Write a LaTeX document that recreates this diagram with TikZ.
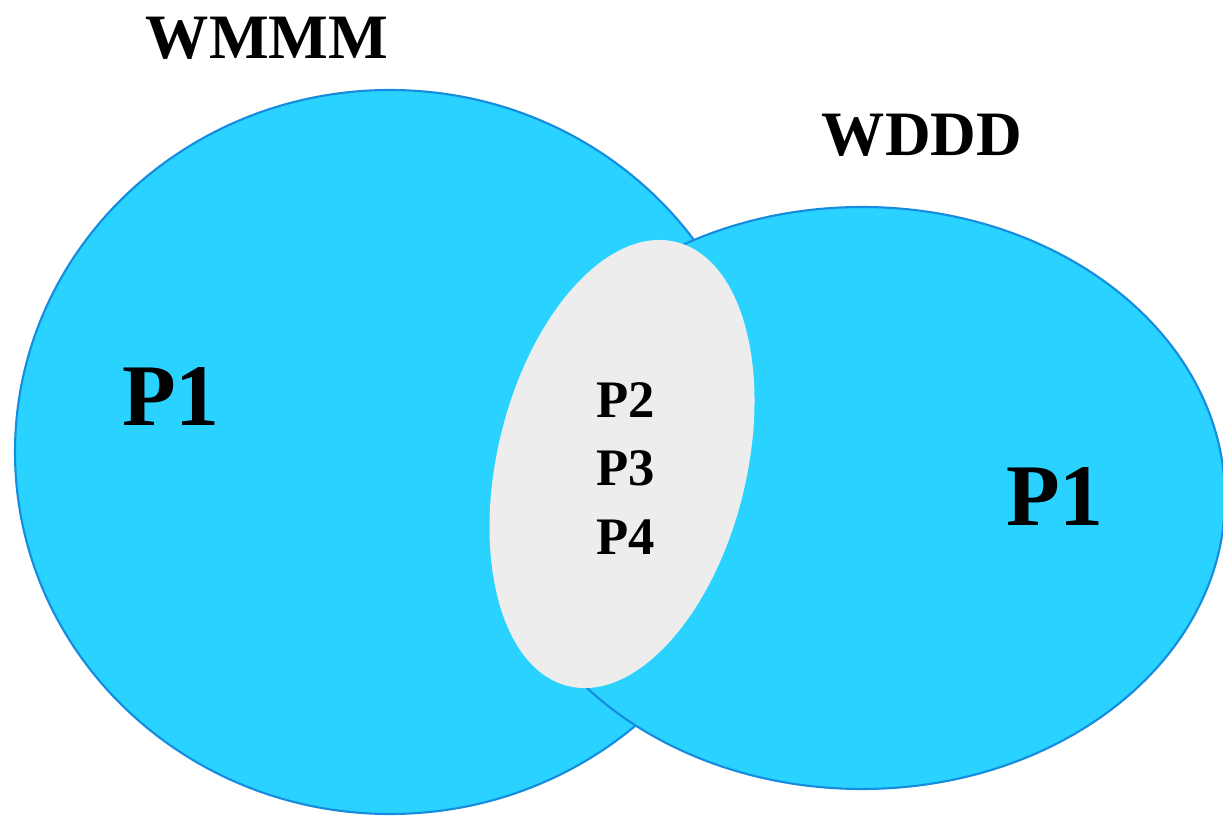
\documentclass[tikz,border=0pt]{standalone}
\usepackage{fontspec}
\setmainfont{Liberation Serif}
\usetikzlibrary{positioning}

\definecolor{setblue}{RGB}{41,210,255}
\definecolor{setline}{RGB}{22,140,225}
\definecolor{coregray}{RGB}{237,237,237}

\begin{document}
\begin{tikzpicture}[
    x=0.02cm, y=0.02cm,
    setfill/.style={fill=setblue, draw=setline, line width=1.2pt},
    corefill/.style={fill=coregray, draw=none},
    title/.style={font=\fontsize{36}{40}\selectfont\bfseries, inner sep=0pt},
    biglabel/.style={font=\fontsize{50}{56}\selectfont\bfseries, inner sep=0pt},
    smalllabel/.style={font=\fontsize{30}{34}\selectfont\bfseries, inner sep=0pt}
]
\useasboundingbox (0,0) rectangle (1223,815);

% Sets
\draw[setfill] (390,363) ellipse [x radius=375, y radius=362];
\draw[setfill] (862,317) ellipse [x radius=363, y radius=291];

% Overlap
\fill[corefill] (622,351) ellipse [x radius=124.6, y radius=228.5, rotate=-13.6];

% Titles
\node[title] (wmmm) at (267,777) {WMMM};
\node[title] (wddd) at (922,680) {WDDD};

% Labels
\node[biglabel] (leftp) at (171,418) {P1};
\node[biglabel] (rightp) at (1055,318) {P1};
\node[smalllabel] (ptwo) at (626,415) {P2};
\node[smalllabel, below=1.37cm of ptwo.center, anchor=center] (pthree) {P3};
\node[smalllabel, below=1.37cm of pthree.center, anchor=center] (pfour) {P4};

\end{tikzpicture}
\end{document}
